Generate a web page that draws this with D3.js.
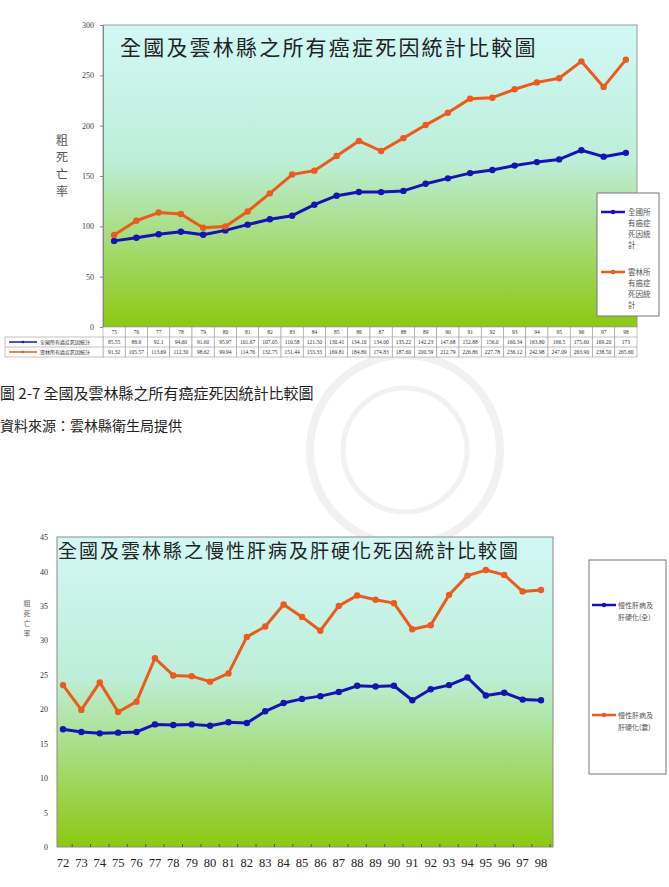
<!DOCTYPE html>
<html>
<head>
<meta charset="utf-8">
<script src="https://cdn.jsdelivr.net/npm/d3@7"></script>
<style>
  body { margin: 0; background: #fff; }
  svg { display: block; }
  text { font-family: "Noto Sans CJK TC", sans-serif; }
  .num { font-family: "Liberation Serif", serif; }
</style>
</head>
<body>
<svg id="page"></svg>
<script>
// chart 1: 所有癌症
const years1 = ['75','76','77','78','79','80','81','82','83','84','85','86','87','88','89','90','91','92','93','94','95','96','97','98'];
const natLabels1 = ['85.55','88.6','92.1','94.60','91.60','95.97','101.67','107.05','110.58','121.50','130.41','134.10','134.00','135.22','142.23','147.68','152.88','156.0','160.34','163.80','166.5','175.60','169.20','173'];
const yunLabels1 = ['91.32','105.57','113.69','112.30','98.62','99.94','114.76','132.75','151.44','155.33','169.81','184.80','174.83','187.60','200.59','212.79','226.86','227.78','236.12','242.98','247.09','263.90','238.50','265.60'];
const yTicks1 = [0, 50, 100, 150, 200, 250, 300];

// chart 2: 慢性肝病及肝硬化
const years2 = ['72','73','74','75','76','77','78','79','80','81','82','83','84','85','86','87','88','89','90','91','92','93','94','95','96','97','98'];
const nat2 = [17.1, 16.7, 16.5, 16.6, 16.7, 17.8, 17.7, 17.8, 17.6, 18.1, 18.0, 19.7, 20.9, 21.5, 21.9, 22.5, 23.4, 23.3, 23.4, 21.3, 22.9, 23.5, 24.6, 22.0, 22.4, 21.4, 21.3];
const yun2 = [23.5, 19.9, 23.9, 19.6, 21.1, 27.4, 24.9, 24.8, 24.0, 25.2, 30.5, 32.0, 35.2, 33.4, 31.4, 35.0, 36.5, 35.9, 35.4, 31.6, 32.2, 36.6, 39.4, 40.2, 39.5, 37.1, 37.3];
const yTicks2 = [0, 5, 10, 15, 20, 25, 30, 35, 40, 45];

const blue = '#1414b4';
const orange = '#ec5a1c';

const svg = d3.select('#page').attr('width', 669).attr('height', 887);

const defs = svg.append('defs');
const grad = defs.append('linearGradient').attr('id', 'bg').attr('x1', 0).attr('y1', 0).attr('x2', 0).attr('y2', 1);
grad.append('stop').attr('offset', '0%').attr('stop-color', '#d2f8f6');
grad.append('stop').attr('offset', '45%').attr('stop-color', '#bdeed8');
grad.append('stop').attr('offset', '100%').attr('stop-color', '#8cc812');

// faint watermark seal
const wm = svg.append('g').attr('fill', 'none').attr('stroke', '#f1f1f1');
wm.append('circle').attr('cx', 405).attr('cy', 450).attr('r', 95).attr('stroke-width', 8);
wm.append('circle').attr('cx', 405).attr('cy', 450).attr('r', 62).attr('stroke-width', 5);

function drawLine(g, x, y, values, color) {
    const line = d3.line()
        .x((d, i) => x(i))
        .y(d => y(d));
    g.append('path')
        .datum(values)
        .attr('fill', 'none')
        .attr('stroke', color)
        .attr('stroke-width', 3)
        .attr('stroke-linejoin', 'round')
        .attr('d', line);
    g.selectAll(null)
        .data(values)
        .enter().append('circle')
        .attr('cx', (d, i) => x(i))
        .attr('cy', d => y(d))
        .attr('r', 3.2)
        .attr('fill', color);
}

function swatch(g, x0, x1, yy, color, w) {
    g.append('line').attr('x1', x0).attr('x2', x1).attr('y1', yy).attr('y2', yy)
        .attr('stroke', color).attr('stroke-width', w);
    g.append('circle').attr('cx', (x0 + x1) / 2).attr('cy', yy).attr('r', w * 0.9).attr('fill', color);
}

// ---------- chart 1 ----------
(function () {
    const left = 103, right = 637, top = 25, bottom = 327;
    const g = svg.append('g');

    g.append('rect')
        .attr('x', left).attr('y', top)
        .attr('width', right - left).attr('height', bottom - top)
        .attr('fill', 'url(#bg)')
        .attr('stroke', '#9a9a9a');

    const xBand = d3.scaleBand().domain(d3.range(years1.length)).range([left, right]);
    const x = i => xBand(i) + xBand.bandwidth() / 2;
    const y = d3.scaleLinear().domain([0, 300]).range([bottom, top]);

    const yAxis = g.append('g')
        .attr('transform', `translate(${left},0)`)
        .call(d3.axisLeft(y).tickValues(yTicks1).tickSize(3).tickPadding(6));
    yAxis.select('.domain').attr('stroke', '#888');
    yAxis.selectAll('.tick line').attr('stroke', '#888');
    yAxis.selectAll('text').attr('class', 'num').attr('font-size', 8).attr('fill', '#444');

    g.append('text')
        .attr('x', 120).attr('y', 55)
        .attr('font-size', 21)
        .attr('letter-spacing', 2.2)
        .attr('fill', '#222')
        .text('全國及雲林縣之所有癌症死因統計比較圖');

    // y label stacked
    const yl = g.append('text').attr('font-size', 12).attr('fill', '#555').attr('text-anchor', 'middle');
    ['粗', '死', '亡', '率'].forEach((c, i) => {
        yl.append('tspan').attr('x', 62).attr('y', 145 + i * 17).text(c);
    });

    drawLine(g, x, y, natLabels1.map(Number), blue);
    drawLine(g, x, y, yunLabels1.map(Number), orange);

    // data table
    const rowH = 10, t0 = bottom;
    const tg = g.append('g').attr('font-size', 5).attr('fill', '#333');
    years1.forEach((yr, i) => {
        tg.append('rect').attr('x', xBand(i)).attr('y', t0).attr('width', xBand.bandwidth()).attr('height', rowH * 3)
            .attr('fill', '#fff').attr('stroke', '#999').attr('stroke-width', 0.6);
        [yr, natLabels1[i], yunLabels1[i]].forEach((s, r) => {
            tg.append('text').attr('class', 'num').attr('x', x(i)).attr('y', t0 + r * rowH + 7)
                .attr('text-anchor', 'middle').attr('font-size', 5.5).text(s);
        });
        tg.append('line').attr('x1', xBand(i)).attr('x2', xBand(i) + xBand.bandwidth())
            .attr('y1', t0 + rowH).attr('y2', t0 + rowH).attr('stroke', '#999').attr('stroke-width', 0.6);
        tg.append('line').attr('x1', xBand(i)).attr('x2', xBand(i) + xBand.bandwidth())
            .attr('y1', t0 + 2 * rowH).attr('y2', t0 + 2 * rowH).attr('stroke', '#999').attr('stroke-width', 0.6);
    });
    tg.append('rect').attr('x', 5).attr('y', t0 + rowH).attr('width', left - 5).attr('height', rowH * 2)
        .attr('fill', '#fff').attr('stroke', '#999').attr('stroke-width', 0.6);
    tg.append('line').attr('x1', 5).attr('x2', left).attr('y1', t0 + 2 * rowH).attr('y2', t0 + 2 * rowH)
        .attr('stroke', '#999').attr('stroke-width', 0.6);
    swatch(tg, 9, 37, t0 + rowH * 1.5, blue, 1.5);
    swatch(tg, 9, 37, t0 + rowH * 2.5, orange, 1.5);
    tg.append('text').attr('x', 40).attr('y', t0 + rowH + 7).text('全國所有癌症死因統計');
    tg.append('text').attr('x', 40).attr('y', t0 + 2 * rowH + 7).text('雲林所有癌症死因統計');

    // legend
    const lg = g.append('g');
    lg.append('rect').attr('x', 597).attr('y', 193).attr('width', 62).attr('height', 123)
        .attr('fill', '#fff').attr('stroke', '#777');
    swatch(lg, 601, 625, 212, blue, 2.5);
    swatch(lg, 601, 625, 272, orange, 2.5);
    const l1 = lg.append('text').attr('font-size', 7.5).attr('fill', '#555');
    ['全國所', '有癌症', '死因統', '計'].forEach((s, i) => l1.append('tspan').attr('x', 628).attr('y', 215 + i * 11).text(s));
    const l2 = lg.append('text').attr('font-size', 7.5).attr('fill', '#555');
    ['雲林所', '有癌症', '死因統', '計'].forEach((s, i) => l2.append('tspan').attr('x', 628).attr('y', 275 + i * 11).text(s));
})();

// captions
svg.append('text').attr('x', 0).attr('y', 399).attr('font-size', 15).attr('fill', '#222')
    .text('圖 2-7  全國及雲林縣之所有癌症死因統計比較圖');
svg.append('text').attr('x', 0).attr('y', 431).attr('font-size', 14).attr('fill', '#222')
    .text('資料來源：雲林縣衛生局提供');

// ---------- chart 2 ----------
(function () {
    const left = 57, right = 553, top = 537, bottom = 847;
    const g = svg.append('g');

    g.append('rect')
        .attr('x', left).attr('y', top)
        .attr('width', right - left).attr('height', bottom - top)
        .attr('fill', 'url(#bg)')
        .attr('stroke', '#8a8a8a');

    const xPt = d3.scalePoint().domain(d3.range(years2.length)).range([left + 6, right - 12]);
    const x = i => xPt(i);
    const y = d3.scaleLinear().domain([0, 45]).range([bottom, top]);

    const yAxis = g.append('g')
        .attr('transform', `translate(${left},0)`)
        .call(d3.axisLeft(y).tickValues(yTicks2).tickSize(0).tickPadding(9));
    yAxis.select('.domain').remove();
    yAxis.selectAll('text').attr('class', 'num').attr('font-size', 8).attr('fill', '#333');

    // small ticks along the bottom
    g.selectAll(null).data(years2).enter().append('line')
        .attr('x1', (d, i) => x(i) + xPt.step() / 2).attr('x2', (d, i) => x(i) + xPt.step() / 2)
        .attr('y1', bottom).attr('y2', bottom - 3)
        .attr('stroke', '#555');

    g.selectAll(null).data(years2).enter().append('text')
        .attr('class', 'num')
        .attr('x', (d, i) => x(i))
        .attr('y', bottom + 20)
        .attr('text-anchor', 'middle')
        .attr('font-size', 12.5)
        .attr('fill', '#222')
        .text(d => d);

    g.append('text')
        .attr('x', left + 1).attr('y', 558)
        .attr('font-size', 19)
        .attr('letter-spacing', 2)
        .attr('fill', '#222')
        .text('全國及雲林縣之慢性肝病及肝硬化死因統計比較圖');

    const yl = g.append('text').attr('font-size', 7).attr('fill', '#666').attr('text-anchor', 'middle');
    ['粗', '死', '亡', '率'].forEach((c, i) => {
        yl.append('tspan').attr('x', 27).attr('y', 606 + i * 10).text(c);
    });

    drawLine(g, x, y, nat2, blue);
    drawLine(g, x, y, yun2, orange);

    const lg = g.append('g');
    lg.append('rect').attr('x', 589).attr('y', 560).attr('width', 77).attr('height', 214)
        .attr('fill', '#fff').attr('stroke', '#777');
    swatch(lg, 592, 616, 605, blue, 2.5);
    swatch(lg, 592, 616, 715, orange, 2.5);
    const l1 = lg.append('text').attr('font-size', 7).attr('fill', '#555');
    ['慢性肝病及', '肝硬化(全)'].forEach((s, i) => l1.append('tspan').attr('x', 618).attr('y', 608 + i * 12).text(s));
    const l2 = lg.append('text').attr('font-size', 7).attr('fill', '#555');
    ['慢性肝病及', '肝硬化(雲)'].forEach((s, i) => l2.append('tspan').attr('x', 618).attr('y', 718 + i * 12).text(s));
})();
</script>
</body>
</html>
